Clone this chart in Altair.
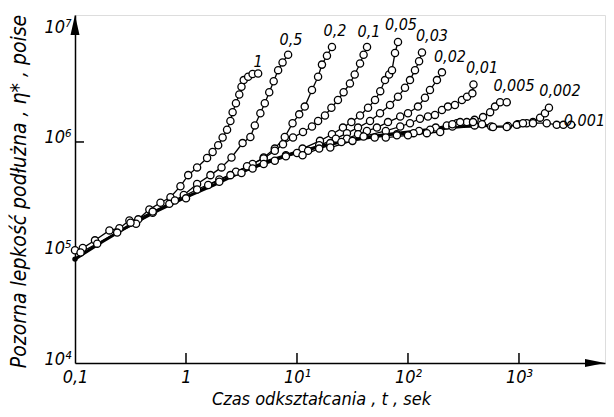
import altair as alt
import pandas as pd
import numpy as np

# ---- data: log10(t [s]) and log10(eta* [poise]) ----
rates = ["1", "0,5", "0,2", "0,1", "0,05", "0,03", "0,02", "0,01", "0,005", "0,002", "0,001"]

c1_lt = [-1.0, -0.93, -0.82, -0.69, -0.6, -0.51, -0.43, -0.33, -0.23, -0.14, -0.05, 0.02, 0.1, 0.19, 0.24, 0.29, 0.33, 0.37, 0.40, 0.42, 0.45, 0.48, 0.50, 0.52, 0.56, 0.60, 0.65]
c1_le = [5.02, 5.04, 5.11, 5.20, 5.22, 5.29, 5.30, 5.39, 5.45, 5.50, 5.60, 5.70, 5.77, 5.855, 5.91, 5.97, 6.04, 6.11, 6.19, 6.27, 6.35, 6.43, 6.50, 6.56, 6.59, 6.615, 6.62]

c05_lt = [-0.95, -0.8, -0.62, -0.45, -0.3, -0.15, -0.02, 0.1, 0.22, 0.32, 0.41, 0.51, 0.58, 0.62, 0.67, 0.71, 0.75, 0.79, 0.83, 0.87, 0.92]
c05_le = [5.00, 5.08, 5.18, 5.26, 5.36, 5.44, 5.52, 5.62, 5.70, 5.77, 5.86, 5.99, 6.045, 6.15, 6.26, 6.35, 6.45, 6.55, 6.65, 6.72, 6.79]

c02_lt = [-0.5, -0.3, -0.1, 0.1, 0.3, 0.45, 0.6, 0.7, 0.8, 0.89, 0.96, 1.02, 1.07, 1.135, 1.19, 1.225, 1.27, 1.315]
c02_le = [5.27, 5.37, 5.47, 5.57, 5.66, 5.73, 5.80, 5.86, 5.94, 6.045, 6.17, 6.25, 6.32, 6.47, 6.59, 6.70, 6.78, 6.86]

c01_lt = [0.0, 0.2, 0.4, 0.55, 0.7, 0.8, 0.874, 0.964, 1.054, 1.135, 1.19, 1.252, 1.31, 1.369, 1.42, 1.477, 1.52, 1.568, 1.60, 1.631]
c01_le = [5.49, 5.61, 5.70, 5.78, 5.85, 5.92, 5.98, 6.04, 6.09, 6.14, 6.19, 6.24, 6.31, 6.38, 6.45, 6.53, 6.61, 6.71, 6.79, 6.86]

c005_lt = [0.3, 0.5, 0.7, 0.9, 1.05, 1.207, 1.315, 1.414, 1.49, 1.568, 1.64, 1.703, 1.75, 1.793, 1.83, 1.856, 1.883, 1.91]
c005_le = [5.64, 5.72, 5.80, 5.88, 5.94, 6.01, 6.07, 6.13, 6.18, 6.24, 6.31, 6.38, 6.46, 6.56, 6.61, 6.65, 6.805, 6.905]

c003_lt = [0.6, 0.8, 1.0, 1.2, 1.35, 1.45, 1.55, 1.658, 1.748, 1.838, 1.91, 1.973, 2.018, 2.063, 2.10, 2.126]
c003_le = [5.76, 5.83, 5.90, 5.97, 6.03, 6.08, 6.13, 6.19, 6.26, 6.335, 6.41, 6.49, 6.56, 6.65, 6.73, 6.81]

c002_lt = [0.9, 1.1, 1.3, 1.45, 1.55, 1.63, 1.72, 1.82, 1.93, 2.0, 2.09, 2.153, 2.198, 2.261, 2.306]
c002_le = [5.87, 5.92, 5.99, 6.03, 6.07, 6.10, 6.13, 6.18, 6.23, 6.26, 6.32, 6.40, 6.47, 6.56, 6.63]

c001_lt = [1.05, 1.2, 1.4, 1.6, 1.8, 1.93, 2.018, 2.108, 2.18, 2.243, 2.306, 2.36, 2.423, 2.486, 2.532, 2.58, 2.59]
c001_le = [5.88, 5.94, 6.0, 6.05, 6.10, 6.14, 6.17, 6.21, 6.23, 6.245, 6.29, 6.32, 6.335, 6.38, 6.41, 6.44, 6.52]

c0005_lt = [1.3, 1.5, 1.7, 1.9, 2.1, 2.25, 2.35, 2.44, 2.53, 2.60, 2.676, 2.74, 2.784, 2.83, 2.89]
c0005_le = [5.95, 6.01, 6.04, 6.07, 6.10, 6.13, 6.15, 6.17, 6.18, 6.20, 6.225, 6.27, 6.32, 6.36, 6.36]

c0002_lt = [1.9, 2.05, 2.2, 2.4, 2.6, 2.75, 2.90, 2.99, 3.07, 3.126, 3.19, 3.234, 3.27]
c0002_le = [6.06, 6.08, 6.11, 6.14, 6.15, 6.14, 6.145, 6.16, 6.17, 6.18, 6.22, 6.26, 6.31]

c0001_lt = [1.8, 2.0, 2.17, 2.29, 2.40, 2.47, 2.586, 2.667, 2.766, 2.89, 2.98, 3.036, 3.126, 3.25, 3.34, 3.40, 3.47]
c0001_le = [6.04, 6.06, 6.08, 6.09, 6.16, 6.18, 6.18, 6.16, 6.135, 6.135, 6.155, 6.17, 6.17, 6.17, 6.155, 6.155, 6.155]

# common lower (linear) envelope, thick line
env_lt = [-1.0, -0.75, -0.5, -0.25, 0.0, 0.25, 0.5, 0.75, 1.0, 1.25, 1.5, 1.75, 2.0, 2.25, 2.5, 2.75]
env_le = [4.94, 5.10, 5.25, 5.38, 5.50, 5.61, 5.73, 5.83, 5.91, 5.97, 6.02, 6.06, 6.09, 6.12, 6.14, 6.15]

# curve label positions
label_lt = [0.649, 0.946, 1.342, 1.649, 1.937, 2.216, 2.378, 2.667, 2.955, 3.369, 3.59]
label_le = [6.724, 6.92, 7.004, 6.995, 7.059, 6.959, 6.769, 6.670, 6.507, 6.462, 6.19]

x_ticks = [1, 10, 100, 1000]
y_ticks = [1e6]

curves = [
    (c1_lt, c1_le), (c05_lt, c05_le), (c02_lt, c02_le), (c01_lt, c01_le),
    (c005_lt, c005_le), (c003_lt, c003_le), (c002_lt, c002_le), (c001_lt, c001_le),
    (c0005_lt, c0005_le), (c0002_lt, c0002_le), (c0001_lt, c0001_le),
]

rows = []
for name, (lts, les) in zip(rates, curves):
    for i, (a, b) in enumerate(zip(lts, les)):
        rows.append({"curve": name, "idx": i, "t": 10 ** a, "eta": 10 ** b})
df = pd.DataFrame(rows)

env_df = pd.DataFrame({"t": np.power(10.0, env_lt), "eta": np.power(10.0, env_le), "idx": range(len(env_lt))})
start_df = env_df.iloc[[0]]
lab_df = pd.DataFrame({"t": np.power(10.0, label_lt), "eta": np.power(10.0, label_le), "label": rates})
xt_df = pd.DataFrame({"t": x_ticks})
yt_df = pd.DataFrame({"eta": y_ticks})

W, H = 530, 348
FONT = "'Liberation Sans Narrow', 'DejaVu Sans Condensed', 'Roboto Condensed', 'Liberation Sans', sans-serif"

xscale = alt.Scale(type="log", domain=[0.1, 10 ** 3.775], nice=False)
yscale = alt.Scale(type="log", domain=[1e4, 10 ** 7.149], nice=False)

xaxis = alt.Axis(
    values=[0.1, 1, 10, 100, 1000],
    labelExpr="datum.value < 0.5 ? '0,1' : datum.value < 5 ? '1' : '10' + ['', '¹', '²', '³', '⁴'][round(log(datum.value) / LN10)]",
    ticks=False, grid=False, domainColor="black", domainWidth=1.5,
    labelFont=FONT, labelFontSize=18, labelFontStyle="italic", labelColor="black",
    labelPadding=5, labelFlush=False, labelOverlap=False,
    title="Czas odkształcania , t , sek", titleFont=FONT, titleFontSize=18,
    titleFontStyle="italic", titleFontWeight="normal", titleColor="black",
    titleX=246, titleY=36, titleBaseline="middle", titleAlign="center",
)
yaxis = alt.Axis(
    values=[1e4, 1e5, 1e6, 1e7],
    labelExpr="'10' + ['⁰', '¹', '²', '³', '⁴', '⁵', '⁶', '⁷'][round(log(datum.value) / LN10)]",
    ticks=False, grid=False, domainColor="black", domainWidth=1.5,
    labelFont=FONT, labelFontSize=18, labelFontStyle="italic", labelColor="black",
    labelPadding=4, labelOffset=-4, labelFlush=False, labelOverlap=False,
    title="Pozorna lepkość podłużna , η* , poise", titleFont=FONT, titleFontSize=21,
    titleFontStyle="italic", titleFontWeight="normal", titleColor="black",
    titleX=-56, titleY=176, titleAngle=270, titleBaseline="middle", titleAlign="center",
)

X = alt.X("t:Q", scale=xscale, axis=xaxis)
Y = alt.Y("eta:Q", scale=yscale, axis=yaxis)

lines = alt.Chart(df).mark_line(color="black", strokeWidth=1.3).encode(
    x=X, y=Y, detail="curve:N", order="idx:Q"
)
envelope = alt.Chart(env_df).mark_line(color="black", strokeWidth=3).encode(x=X, y=Y, order="idx:Q")
points = alt.Chart(df).mark_point(
    shape="circle", filled=True, fill="white", stroke="black", strokeWidth=1.3, size=52, opacity=1
).encode(x=X, y=Y)
start = alt.Chart(start_df).mark_point(shape="circle", filled=True, color="black", size=30, opacity=1).encode(x=X, y=Y)
labels = alt.Chart(lab_df).mark_text(
    font=FONT, fontSize=16, fontStyle="italic", color="black", align="center", baseline="middle"
).encode(x=X, y=Y, text="label:N")
xticks = alt.Chart(xt_df).mark_rule(color="black", strokeWidth=1.5).encode(
    x=X, y=alt.value(H), y2=alt.value(H - 10)
)
yticks = alt.Chart(yt_df).mark_rule(color="black", strokeWidth=1.5).encode(
    y=Y, x=alt.value(0), x2=alt.value(9)
)
arrow_df = pd.DataFrame({"a": [0]})
xarrow = alt.Chart(arrow_df).mark_point(
    shape="M 1 0 L -1 -0.4 L -1 0.4 Z", filled=True, color="black", size=400, opacity=1
).encode(x=alt.value(W - 10), y=alt.value(H))
yarrow = alt.Chart(arrow_df).mark_point(
    shape="M 0 -1 L 0.45 1 L -0.45 1 Z", filled=True, color="black", size=400, opacity=1
).encode(x=alt.value(0), y=alt.value(10))

chart = alt.layer(
    lines, envelope, points, start, labels, xticks, yticks, xarrow, yarrow
).properties(
    width=W, height=H,
    padding={"left": 67, "top": 7, "right": 1, "bottom": 45},
    autosize=alt.AutoSizeParams(type="none"),
).configure_view(stroke=None).configure(background="white")

chart.save("out.html", embed_options={"renderer": "svg", "actions": False})
